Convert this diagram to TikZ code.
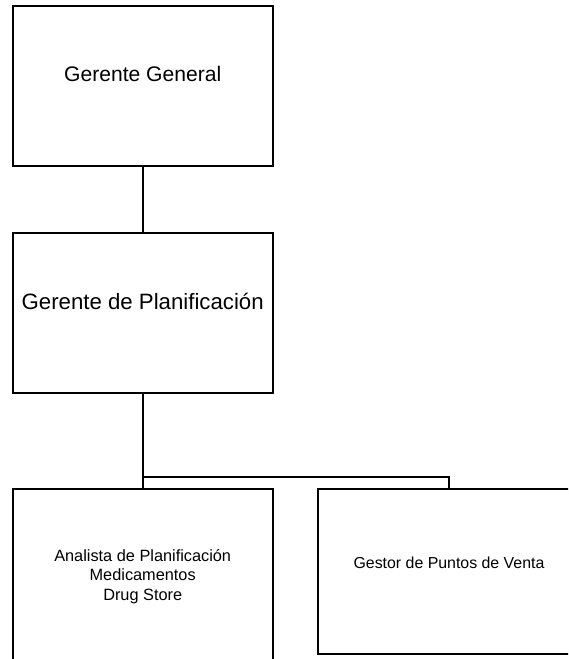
\documentclass[tikz,border=0pt]{standalone}
\usepackage{fontspec}
\setmainfont{Liberation Sans}

\tikzset{
    caja/.style={draw, line width=1.4pt, minimum width=6.5cm, minimum height=4cm, inner sep=0pt, outer sep=0pt},
    linea/.style={line width=1.4pt},
    texto/.style={align=center, inner sep=0pt, font=\fontsize{15}{18}\selectfont},
    textochico/.style={align=center, inner sep=0pt, font=\fontsize{11.6}{13.8}\selectfont}
}

\begin{document}
\begin{tikzpicture}[x=0.025cm, y=-0.025cm]
    \useasboundingbox (0,0) rectangle (568,659);
    \clip (0,0) rectangle (568,659);
    \path node[caja] (GG) at (142.7,86) {}
        node[caja] (GP) at (142.7,313) {}
        node[caja, minimum height=5.025cm] (AP) at (142.7,589.5) {}
        node[caja, minimum width=6.55cm, minimum height=4.125cm] (GV) at (449,571.5) {};
    \path node[texto] (GGt) at (142.7,74) {Gerente General}
        node[texto, font=\fontsize{15.8}{19}\selectfont] (GPt) at (142.7,301.7) {Gerente de Planificación}
        node[textochico] (APt) at (142.7,576.5) {Analista de Planificación\\Medicamentos\\Drug Store}
        node[textochico, font=\fontsize{11.3}{13.5}\selectfont] (GVt) at (449,563) {Gestor de Puntos de Venta};
    \coordinate (bus) at (142.7,477.3);
    \draw[linea] (GG) -- (GP);
    \draw[linea] (GP) -- (bus) -- (AP);
    \draw[linea] (bus) -| (GV);
\end{tikzpicture}
\end{document}
